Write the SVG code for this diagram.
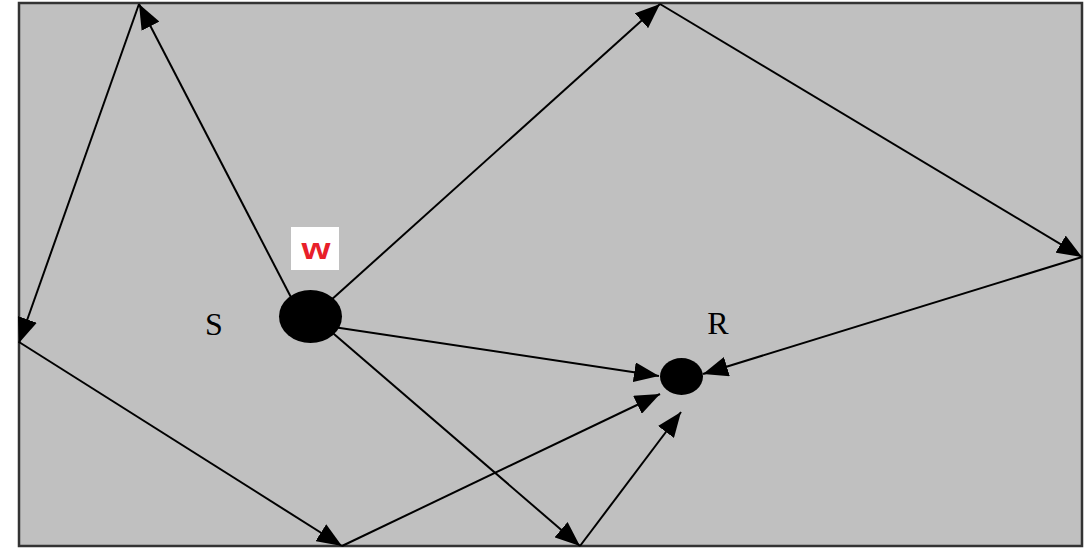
<svg xmlns="http://www.w3.org/2000/svg" width="1092" height="548" viewBox="0 0 1092 548">
  <style>
    .edge { stroke: #000; stroke-width: 2; fill: none; marker-end: url(#ah); }
    .lbl { font-family: "Liberation Serif", "Times New Roman", serif; font-size: 32px; fill: #000; }
  </style>
  <defs>
    <marker id="ah" markerUnits="userSpaceOnUse" markerWidth="25" markerHeight="20" refX="25" refY="10" orient="auto">
      <path d="M0,0 L25,10 L0,20 z" fill="#000"/>
    </marker>
  </defs>
  <rect x="0" y="0" width="1092" height="548" fill="#fff"/>
  <rect id="frame" x="19" y="3" width="1063" height="543" fill="#c0c0c0" stroke="#333" stroke-width="2.5"/>
  <g id="connectors">
    <line class="edge" x1="295" y1="305" x2="139" y2="4"/>
    <line class="edge" x1="139" y1="4" x2="19" y2="343"/>
    <line class="edge" x1="19" y1="342" x2="342" y2="546"/>
    <line class="edge" x1="342" y1="546" x2="660" y2="394"/>
    <line class="edge" x1="320" y1="322" x2="580" y2="546"/>
    <line class="edge" x1="580" y1="546" x2="681" y2="412"/>
    <line class="edge" x1="320" y1="310" x2="660" y2="4"/>
    <line class="edge" x1="660" y1="4" x2="1082" y2="257"/>
    <line class="edge" x1="1082" y1="257" x2="703" y2="374"/>
    <line class="edge" x1="320" y1="325" x2="659" y2="376"/>
  </g>
  <g id="S">
    <ellipse cx="310.5" cy="316.5" rx="31.5" ry="26.5" fill="#000"/>
    <text class="lbl" x="214" y="335" text-anchor="middle">S</text>
  </g>
  <g id="R">
    <ellipse cx="681.5" cy="376.5" rx="21.5" ry="18.5" fill="#000"/>
    <text class="lbl" x="718" y="334" text-anchor="middle">R</text>
  </g>
  <g id="w">
    <rect x="291" y="227" width="48" height="43" fill="#fff"/>
    <text x="316" y="259" text-anchor="middle" font-family="Liberation Sans, Arial, sans-serif" font-weight="bold" font-size="30" fill="#e8202a" textLength="29" lengthAdjust="spacingAndGlyphs">w</text>
  </g>
</svg>
